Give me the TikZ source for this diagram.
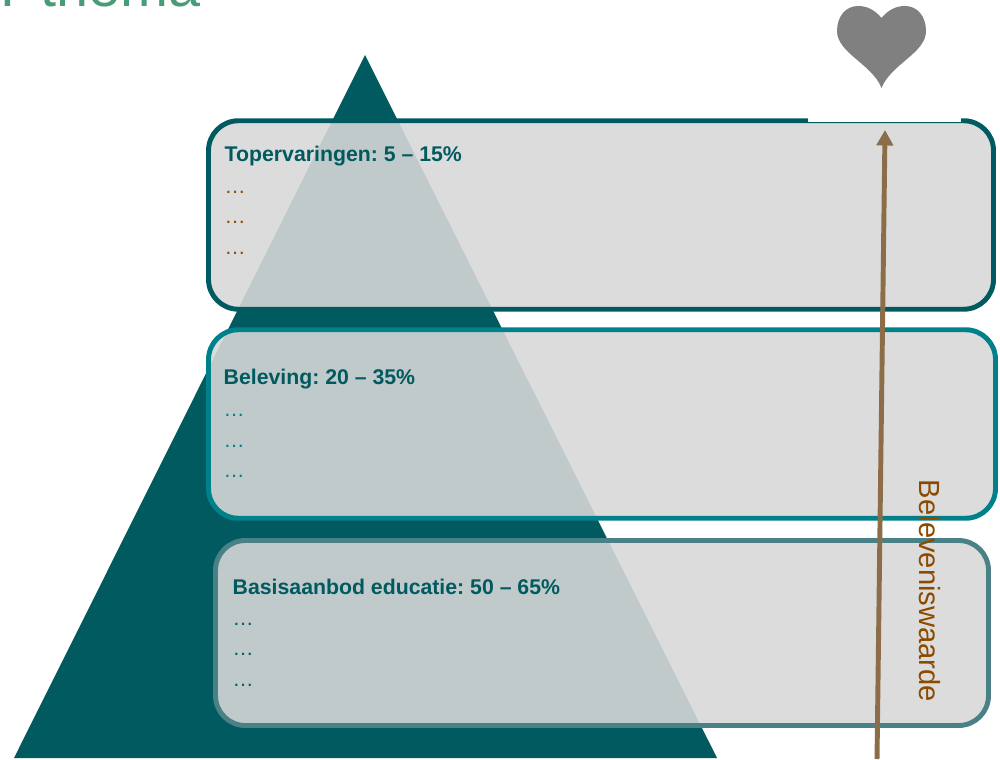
\documentclass[tikz,border=0pt]{standalone}
\usepackage{fontspec}
\setmainfont{Liberation Sans}
\usetikzlibrary{arrows.meta}
\definecolor{donker}{HTML}{005A60}
\definecolor{midden}{HTML}{00808A}
\definecolor{licht}{HTML}{4A8186}
\definecolor{vlak}{HTML}{D8D8D8}
\definecolor{bruin}{HTML}{8B4A00}
\definecolor{pijl}{HTML}{8B6D48}
\definecolor{titel}{HTML}{4A9C78}
\frenchspacing
\tikzset{
  laag/.style={draw, line width=1.4pt, rounded corners=8.5pt, fill=vlak, fill opacity=0.89, draw opacity=1, minimum width=#1, inner sep=0pt, text opacity=1},
  kop/.style={anchor=west, font=\fontsize{6.05}{7}\selectfont\bfseries, inner sep=0pt},
  punt/.style={anchor=west, font=\fontsize{6}{7}\selectfont, inner sep=0pt}
}
\begin{document}
\begin{tikzpicture}
\useasboundingbox (0,0) rectangle (10,7.59);

% Titel
\node[anchor=base west, inner sep=0pt, text=titel, font=\fontsize{16.4}{18}\selectfont] (kopregel) at (0,7.52) {P\hspace{-4.2pt} thema};

% Piramide
\fill[donker] (3.65,7.04) -- (7.17,0.01) -- (0.14,0.01) -- cycle;

% Lagen
\node[laag=7.85cm, draw=donker, minimum height=1.885cm] (top) at (6.01,5.44) {};
\node[laag=7.87cm, draw=midden, minimum height=1.885cm] (bel) at (6.02,3.35) {};
\node[laag=7.73cm, draw=licht, minimum height=1.85cm] (bas) at (6.02,1.26) {};

% Wit vlak achter hart
\fill[white] (8.08,6.37) rectangle (9.61,7.59);

% Hart
\fill[black!50] (8.815,7.41) .. controls (8.75,7.49) and (8.67,7.53) .. (8.58,7.53)
  .. controls (8.46,7.53) and (8.37,7.43) .. (8.37,7.28)
  .. controls (8.37,7.06) and (8.72,6.95) .. (8.815,6.71)
  .. controls (8.91,6.95) and (9.26,7.06) .. (9.26,7.28)
  .. controls (9.26,7.43) and (9.17,7.53) .. (9.05,7.53)
  .. controls (8.96,7.53) and (8.88,7.49) .. (8.815,7.41) -- cycle;

% Teksten laag 1
\node[kop, text=donker] (topkop) at (2.24,6.03) {Topervaringen: 5 – 15\%};
\foreach \y/\naam in {5.67/a, 5.37/b, 5.06/c}
  \node[punt, text=bruin] (top\naam) at (2.24,\y) {…};

% Teksten laag 2
\node[kop, text=donker] (belkop) at (2.23,3.80) {Beleving: 20 – 35\%};
\foreach \y/\naam in {3.44/a, 3.13/b, 2.83/c}
  \node[punt, text=midden] (bel\naam) at (2.23,\y) {…};

% Teksten laag 3
\node[kop, text=donker] (baskop) at (2.32,1.72) {Basisaanbod educatie: 50 – 65\%};
\foreach \y/\naam in {1.35/a, 1.05/b, 0.74/c}
  \node[punt, text=donker] (bas\naam) at (2.32,\y) {…};

% Belevingspijl
\coordinate (onder) at (8.77,0);
\coordinate (boven) at (8.85,6.29);
\draw[pijl, line width=1.4pt, -{Triangle[width=4.6pt,length=4.4pt]}] (onder) -- (boven);
\node[rotate=-90, text=bruin, font=\fontsize{8.3}{10}\selectfont, inner sep=0pt] (waarde) at (9.30,1.68) {Beleveniswaarde};

\end{tikzpicture}
\end{document}
